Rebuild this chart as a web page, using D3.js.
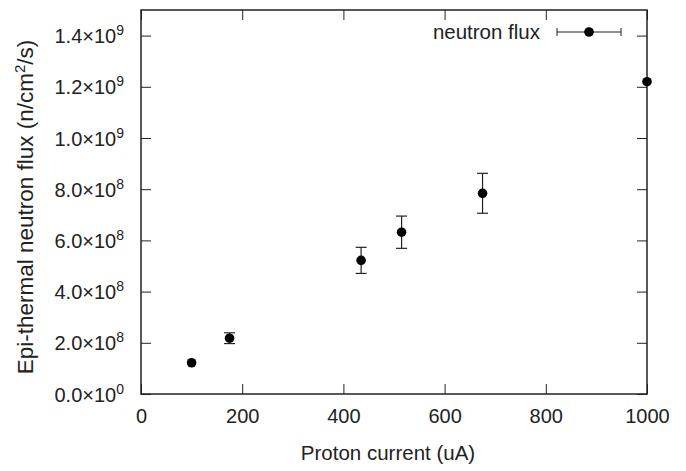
<!DOCTYPE html>
<html>
<head>
<meta charset="utf-8">
<script src="https://cdn.jsdelivr.net/npm/d3@7"></script>
<style>
  body { margin: 0; background: #fff; }
  svg { display: block; font-family: Arial, "Liberation Sans", Helvetica, sans-serif; }
</style>
</head>
<body>
<svg id="chart"></svg>
<script>
var screen = {width: 686, height: 471};
var margins = {top: 10, right: 39, bottom: 77, left: 141};

// proton current (uA), flux and its error
var current = [100, 175, 435, 515, 675, 1000];
var flux = [1.22e8, 2.18e8, 5.22e8, 6.32e8, 7.84e8, 1.22e9];
var fluxErr = [0, 2.1e7, 5.1e7, 6.3e7, 7.8e7, 0];

var xTicks = [0, 200, 400, 600, 800, 1000];
var yTicks = [0, 2e8, 4e8, 6e8, 8e8, 1e9, 1.2e9, 1.4e9];
var yTickMain = ["0.0\u00d710", "2.0\u00d710", "4.0\u00d710", "6.0\u00d710", "8.0\u00d710", "1.0\u00d710", "1.2\u00d710", "1.4\u00d710"];
var yTickExp = ["0", "8", "8", "8", "8", "9", "9", "9"];

var width = screen.width - margins.left - margins.right;
var height = screen.height - margins.top - margins.bottom;

var svg = d3.select("#chart")
    .attr("width", screen.width)
    .attr("height", screen.height);

var graph = svg.append("g")
    .attr("transform", "translate(" + margins.left + "," + margins.top + ")");

var xscale = d3.scaleLinear().domain([0, 1000]).range([0, width]);
var yscale = d3.scaleLinear().domain([0, 1.5e9]).range([height, 0]);

var ink = "#222";

// bottom axis with labels
var xAxis = graph.append("g")
    .attr("transform", "translate(0," + height + ")")
    .call(d3.axisBottom(xscale).tickValues(xTicks).tickFormat(d3.format("d"))
        .tickSize(-10).tickPadding(15).tickSizeOuter(0));
xAxis.selectAll("text").attr("font-size", "20px").attr("fill", ink);

// top and right mirror ticks
graph.append("g")
    .call(d3.axisTop(xscale).tickValues(xTicks).tickSize(-10).tickFormat("").tickSizeOuter(0));
graph.append("g")
    .attr("transform", "translate(" + width + ",0)")
    .call(d3.axisRight(yscale).tickValues(yTicks).tickSize(-10).tickFormat("").tickSizeOuter(0));

// left axis, labels rebuilt with superscripts
var yAxis = graph.append("g")
    .call(d3.axisLeft(yscale).tickValues(yTicks).tickSize(-10).tickFormat("").tickSizeOuter(0));
yAxis.selectAll(".tick").each(function(d, i) {
    var t = d3.select(this).append("text")
        .attr("x", -17)
        .attr("y", 7)
        .attr("text-anchor", "end")
        .attr("fill", ink)
        .attr("font-size", "20px");
    t.append("tspan").text(yTickMain[i]);
    t.append("tspan").attr("dy", -8).attr("font-size", "14px").text(yTickExp[i]);
});

graph.selectAll(".domain").remove();
graph.selectAll(".tick line").attr("stroke", ink).attr("stroke-width", 1);

// frame
graph.append("rect")
    .attr("width", width)
    .attr("height", height)
    .attr("fill", "none")
    .attr("stroke", ink)
    .attr("stroke-width", 1.5);

// axis titles
svg.append("text")
    .attr("x", margins.left + width / 2 - 6)
    .attr("y", 460)
    .attr("text-anchor", "middle")
    .attr("font-size", "20.5px")
    .attr("fill", ink)
    .text("Proton current (uA)");

var ylab = svg.append("text")
    .attr("transform", "translate(33,207) rotate(-90)")
    .attr("text-anchor", "middle")
    .attr("font-size", "22.5px")
    .attr("fill", ink);
ylab.append("tspan").text("Epi-thermal neutron flux (n/cm");
ylab.append("tspan").attr("dy", -8).attr("font-size", "15px").text("2");
ylab.append("tspan").attr("dy", 8).text("/s)");

// error bars
var rows = current.map(function(c, i) { return {x: c, y: flux[i], e: fluxErr[i]}; });
var cap = 5.5;
var bars = graph.append("g").selectAll("g")
    .data(rows.filter(function(r) { return r.e > 0; }))
    .join("g")
    .attr("stroke", ink)
    .attr("stroke-width", 1.2);
bars.append("line")
    .attr("x1", function(d) { return xscale(d.x); })
    .attr("x2", function(d) { return xscale(d.x); })
    .attr("y1", function(d) { return yscale(d.y - d.e); })
    .attr("y2", function(d) { return yscale(d.y + d.e); });
bars.append("line")
    .attr("x1", function(d) { return xscale(d.x) - cap; })
    .attr("x2", function(d) { return xscale(d.x) + cap; })
    .attr("y1", function(d) { return yscale(d.y - d.e); })
    .attr("y2", function(d) { return yscale(d.y - d.e); });
bars.append("line")
    .attr("x1", function(d) { return xscale(d.x) - cap; })
    .attr("x2", function(d) { return xscale(d.x) + cap; })
    .attr("y1", function(d) { return yscale(d.y + d.e); })
    .attr("y2", function(d) { return yscale(d.y + d.e); });

// points
graph.append("g").selectAll("circle")
    .data(rows)
    .join("circle")
    .attr("cx", function(d) { return xscale(d.x); })
    .attr("cy", function(d) { return yscale(d.y); })
    .attr("r", 4.8)
    .attr("fill", "#000");

// legend
var lg = svg.append("g").attr("transform", "translate(0,32)");
lg.append("text")
    .attr("x", 540)
    .attr("y", 7)
    .attr("text-anchor", "end")
    .attr("font-size", "20.5px")
    .attr("fill", ink)
    .text("neutron flux");
lg.append("line").attr("x1", 557).attr("x2", 621).attr("stroke", ink).attr("stroke-width", 1.2);
lg.append("line").attr("x1", 557).attr("x2", 557).attr("y1", -4).attr("y2", 4).attr("stroke", ink);
lg.append("line").attr("x1", 621).attr("x2", 621).attr("y1", -4).attr("y2", 4).attr("stroke", ink);
lg.append("circle").attr("cx", 589).attr("cy", 0).attr("r", 4.8).attr("fill", "#000");
</script>
</body>
</html>
